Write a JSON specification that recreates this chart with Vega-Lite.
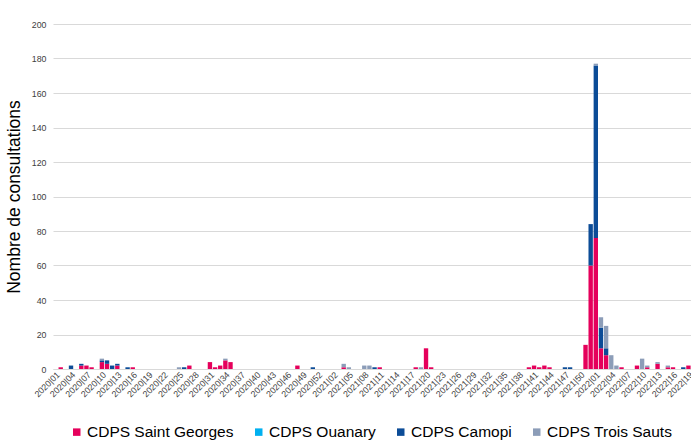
{
  "$schema": "https://vega.github.io/schema/vega-lite/v6.json",
  "width": 638,
  "height": 345,
  "autosize": {"type": "none"},
  "padding": {"left": 53, "top": 24, "right": 0, "bottom": 72},
  "background": "white",
  "config": {"view": {"stroke": null}, "font": "Liberation Sans", "legend": {"padding": 0}},
  "data": {"values": [
    {"week": "2020|02", "site": "CDPS Saint Georges", "n": 1},
    {"week": "2020|04", "site": "CDPS Camopi", "n": 2},
    {"week": "2020|06", "site": "CDPS Saint Georges", "n": 2},
    {"week": "2020|06", "site": "CDPS Camopi", "n": 1},
    {"week": "2020|07", "site": "CDPS Saint Georges", "n": 2},
    {"week": "2020|08", "site": "CDPS Saint Georges", "n": 1},
    {"week": "2020|10", "site": "CDPS Saint Georges", "n": 4},
    {"week": "2020|10", "site": "CDPS Camopi", "n": 1},
    {"week": "2020|10", "site": "CDPS Trois Sauts", "n": 1},
    {"week": "2020|11", "site": "CDPS Saint Georges", "n": 3},
    {"week": "2020|11", "site": "CDPS Camopi", "n": 2},
    {"week": "2020|12", "site": "CDPS Camopi", "n": 2},
    {"week": "2020|13", "site": "CDPS Saint Georges", "n": 2},
    {"week": "2020|13", "site": "CDPS Camopi", "n": 1},
    {"week": "2020|15", "site": "CDPS Camopi", "n": 1},
    {"week": "2020|16", "site": "CDPS Saint Georges", "n": 1},
    {"week": "2020|25", "site": "CDPS Trois Sauts", "n": 1},
    {"week": "2020|26", "site": "CDPS Camopi", "n": 1},
    {"week": "2020|27", "site": "CDPS Saint Georges", "n": 2},
    {"week": "2020|31", "site": "CDPS Saint Georges", "n": 4},
    {"week": "2020|32", "site": "CDPS Saint Georges", "n": 1},
    {"week": "2020|33", "site": "CDPS Saint Georges", "n": 2},
    {"week": "2020|34", "site": "CDPS Saint Georges", "n": 5},
    {"week": "2020|34", "site": "CDPS Trois Sauts", "n": 1},
    {"week": "2020|35", "site": "CDPS Saint Georges", "n": 4},
    {"week": "2020|48", "site": "CDPS Saint Georges", "n": 2},
    {"week": "2020|51", "site": "CDPS Camopi", "n": 1},
    {"week": "2021|04", "site": "CDPS Saint Georges", "n": 1},
    {"week": "2021|04", "site": "CDPS Trois Sauts", "n": 2},
    {"week": "2021|05", "site": "CDPS Trois Sauts", "n": 1},
    {"week": "2021|08", "site": "CDPS Trois Sauts", "n": 2},
    {"week": "2021|09", "site": "CDPS Trois Sauts", "n": 2},
    {"week": "2021|10", "site": "CDPS Camopi", "n": 1},
    {"week": "2021|11", "site": "CDPS Saint Georges", "n": 1},
    {"week": "2021|18", "site": "CDPS Saint Georges", "n": 1},
    {"week": "2021|19", "site": "CDPS Trois Sauts", "n": 1},
    {"week": "2021|20", "site": "CDPS Saint Georges", "n": 12},
    {"week": "2021|21", "site": "CDPS Saint Georges", "n": 1},
    {"week": "2021|40", "site": "CDPS Saint Georges", "n": 1},
    {"week": "2021|41", "site": "CDPS Saint Georges", "n": 2},
    {"week": "2021|42", "site": "CDPS Saint Georges", "n": 1},
    {"week": "2021|43", "site": "CDPS Saint Georges", "n": 2},
    {"week": "2021|44", "site": "CDPS Saint Georges", "n": 1},
    {"week": "2021|47", "site": "CDPS Camopi", "n": 1},
    {"week": "2021|48", "site": "CDPS Camopi", "n": 1},
    {"week": "2021|51", "site": "CDPS Saint Georges", "n": 14},
    {"week": "2021|52", "site": "CDPS Saint Georges", "n": 60},
    {"week": "2021|52", "site": "CDPS Camopi", "n": 24},
    {"week": "2022|01", "site": "CDPS Saint Georges", "n": 76},
    {"week": "2022|01", "site": "CDPS Camopi", "n": 100},
    {"week": "2022|01", "site": "CDPS Trois Sauts", "n": 1},
    {"week": "2022|02", "site": "CDPS Saint Georges", "n": 12},
    {"week": "2022|02", "site": "CDPS Camopi", "n": 12},
    {"week": "2022|02", "site": "CDPS Trois Sauts", "n": 6},
    {"week": "2022|03", "site": "CDPS Saint Georges", "n": 8},
    {"week": "2022|03", "site": "CDPS Camopi", "n": 4},
    {"week": "2022|03", "site": "CDPS Trois Sauts", "n": 13},
    {"week": "2022|04", "site": "CDPS Trois Sauts", "n": 8},
    {"week": "2022|05", "site": "CDPS Trois Sauts", "n": 2},
    {"week": "2022|06", "site": "CDPS Saint Georges", "n": 1},
    {"week": "2022|09", "site": "CDPS Saint Georges", "n": 2},
    {"week": "2022|10", "site": "CDPS Trois Sauts", "n": 6},
    {"week": "2022|11", "site": "CDPS Saint Georges", "n": 1},
    {"week": "2022|11", "site": "CDPS Trois Sauts", "n": 1},
    {"week": "2022|13", "site": "CDPS Saint Georges", "n": 3},
    {"week": "2022|13", "site": "CDPS Trois Sauts", "n": 1},
    {"week": "2022|15", "site": "CDPS Saint Georges", "n": 1},
    {"week": "2022|15", "site": "CDPS Trois Sauts", "n": 1},
    {"week": "2022|16", "site": "CDPS Saint Georges", "n": 1},
    {"week": "2022|18", "site": "CDPS Camopi", "n": 1},
    {"week": "2022|19", "site": "CDPS Saint Georges", "n": 2}
  ]},
  "transform": [
    {"calculate": "indexof(['CDPS Saint Georges','CDPS Ouanary','CDPS Camopi','CDPS Trois Sauts'], datum.site)", "as": "ord"}
  ],
  "mark": {"type": "bar"},
  "encoding": {
    "x": {
      "field": "week", "type": "ordinal",
      "scale": {
        "paddingInner": 0.15, "paddingOuter": 0.075,
        "domain": ["2020|01","2020|02","2020|03","2020|04","2020|05","2020|06","2020|07","2020|08","2020|09","2020|10","2020|11","2020|12","2020|13","2020|14","2020|15","2020|16","2020|17","2020|18","2020|19","2020|20","2020|21","2020|22","2020|23","2020|24","2020|25","2020|26","2020|27","2020|28","2020|29","2020|30","2020|31","2020|32","2020|33","2020|34","2020|35","2020|36","2020|37","2020|38","2020|39","2020|40","2020|41","2020|42","2020|43","2020|44","2020|45","2020|46","2020|47","2020|48","2020|49","2020|50","2020|51","2020|52","2020|53",
          "2021|01","2021|02","2021|03","2021|04","2021|05","2021|06","2021|07","2021|08","2021|09","2021|10","2021|11","2021|12","2021|13","2021|14","2021|15","2021|16","2021|17","2021|18","2021|19","2021|20","2021|21","2021|22","2021|23","2021|24","2021|25","2021|26","2021|27","2021|28","2021|29","2021|30","2021|31","2021|32","2021|33","2021|34","2021|35","2021|36","2021|37","2021|38","2021|39","2021|40","2021|41","2021|42","2021|43","2021|44","2021|45","2021|46","2021|47","2021|48","2021|49","2021|50","2021|51","2021|52",
          "2022|01","2022|02","2022|03","2022|04","2022|05","2022|06","2022|07","2022|08","2022|09","2022|10","2022|11","2022|12","2022|13","2022|14","2022|15","2022|16","2022|17","2022|18","2022|19"]
      },
      "axis": {
        "title": null,
        "values": ["2020|01","2020|04","2020|07","2020|10","2020|13","2020|16","2020|19","2020|22","2020|25","2020|28","2020|31","2020|34","2020|37","2020|40","2020|43","2020|46","2020|49","2020|52","2021|02","2021|05","2021|08","2021|11","2021|14","2021|17","2021|20","2021|23","2021|26","2021|29","2021|32","2021|35","2021|38","2021|41","2021|44","2021|47","2021|50","2022|01","2022|04","2022|07","2022|10","2022|13","2022|16","2022|19"],
        "labelAngle": -45,
        "labelFontSize": 8.8,
        "labelColor": "#404040",
        "labelPadding": 1,
        "labelDx": -6,
        "ticks": false,
        "domainColor": "#d9d9d9",
        "labelOverlap": false
      }
    },
    "y": {
      "field": "n", "type": "quantitative", "stack": "zero",
      "scale": {"domain": [0, 200]},
      "axis": {
        "title": "Nombre de consultations",
        "titleFontSize": 17.5,
        "titleFontWeight": "normal",
        "titleColor": "#000000",
        "titlePadding": 8,
        "values": [0,20,40,60,80,100,120,140,160,180,200],
        "labelFontSize": 8.8,
        "labelColor": "#404040",
        "labelPadding": 7,
        "ticks": false,
        "domain": false,
        "gridColor": "#d9d9d9"
      }
    },
    "color": {
      "field": "site", "type": "nominal",
      "scale": {
        "domain": ["CDPS Saint Georges","CDPS Ouanary","CDPS Camopi","CDPS Trois Sauts"],
        "range": ["#E5005B","#00B0F0","#0C4C97","#8C9DB8"]
      },
      "legend": {
        "title": null,
        "orient": "none",
        "legendX": 16,
        "legendY": 400,
        "direction": "horizontal",
        "symbolType": "square",
        "symbolSize": 56,
        "symbolStrokeWidth": 0,
        "labelFontSize": 15.5,
        "labelColor": "#000000",
        "labelOffset": 2.5,
        "columnPadding": 17,
        "labelLimit": 300
      }
    },
    "order": {"field": "ord", "type": "quantitative"}
  }
}
